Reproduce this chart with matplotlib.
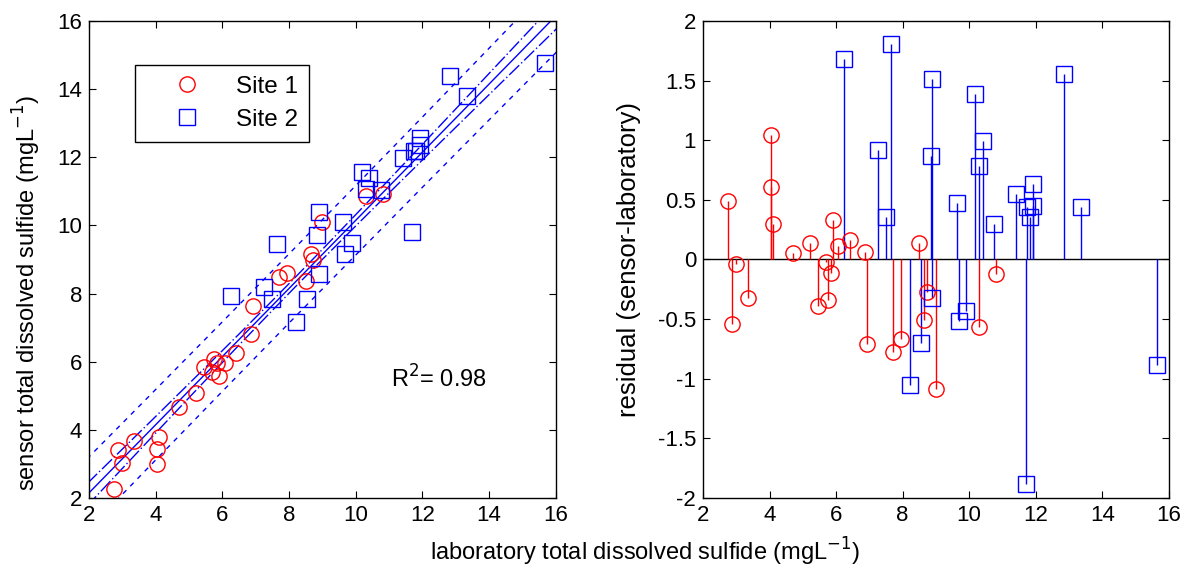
import numpy as np
import matplotlib
matplotlib.use("Agg")
import matplotlib.pyplot as plt

plt.rcParams['font.family'] = ['Liberation Sans', 'DejaVu Sans']
plt.rcParams['axes.unicode_minus'] = False

# Site 1: laboratory value and residual as shown in the right panel
lab1 = [2.74, 2.86, 2.98, 3.36, 4.04, 4.04, 4.10, 4.71, 5.22, 5.46, 5.69, 5.75, 5.84,
        5.90, 6.07, 6.42, 6.87, 6.92, 7.70, 7.94, 8.50, 8.65, 8.72, 9.00, 10.30, 10.81]
res1 = [0.49, -0.54, -0.04, -0.32, 1.04, 0.61, 0.30, 0.05, 0.14, -0.39, -0.02, -0.34, -0.11,
        0.33, 0.11, 0.16, 0.06, -0.71, -0.78, -0.67, 0.14, -0.51, -0.27, -1.09, -0.57, -0.12]

# Site 2
lab2 = [6.25, 7.26, 7.49, 7.65, 8.22, 8.55, 8.84, 8.89, 8.89, 9.62, 9.68, 9.90, 10.18,
        10.30, 10.41, 10.75, 11.42, 11.70, 11.75, 11.82, 11.92, 11.93, 12.84, 13.35, 15.66]
res2 = [1.68, 0.92, 0.36, 1.81, -1.05, -0.70, 0.865, 1.51, -0.32, 0.47, -0.52, -0.43, 1.39,
        0.78, 0.99, 0.30, 0.55, -1.88, 0.44, 0.36, 0.45, 0.63, 1.555, 0.44, -0.885]

# regression line as drawn in the left panel
fit_slope = 1.0
fit_intercept = 0.15
fit_sd = 0.5
r2_label = "R$^2$= 0.98"

ticks_x = [2, 4, 6, 8, 10, 12, 14, 16]
ticks_y_left = [2, 4, 6, 8, 10, 12, 14, 16]
ticks_y_right = [-2, -1.5, -1, -0.5, 0, 0.5, 1, 1.5, 2]
tick_labels_right = ['-2', '-1.5', '-1', '-0.5', '0', '0.5', '1', '1.5', '2']

lab1 = np.array(lab1); res1 = np.array(res1)
lab2 = np.array(lab2); res2 = np.array(res2)
# sensor readings as they sit in the left panel
sensor1 = lab1 - res1
sensor2 = lab2 + res2

# confidence / prediction bands around the fit
x_all = np.concatenate([lab1, lab2])
n = len(x_all)
t = 2.01
xm = x_all.mean()
sxx = np.sum((x_all - xm)**2)
xf = np.linspace(1.5, 16.5, 200)
yf = fit_intercept + fit_slope * xf
ci = t * fit_sd * np.sqrt(1.0/n + (xf - xm)**2 / sxx)
pi = t * fit_sd * np.sqrt(1 + 1.0/n + (xf - xm)**2 / sxx)

fig = plt.figure(figsize=(11.88, 5.72), dpi=100)
ax1 = fig.add_axes([0.0749, 0.1294, 0.393, 0.834])
ax2 = fig.add_axes([0.5918, 0.1294, 0.392, 0.834])

fs = 16
fl = 17

ax1.plot(xf, yf, color='b', lw=1)
ax1.plot(xf, yf + ci, color='b', lw=1, dashes=(10, 2, 1, 2))
ax1.plot(xf, yf - ci, color='b', lw=1, dashes=(10, 2, 1, 2))
ax1.plot(xf, yf + pi, color='b', lw=1, dashes=(3.5, 4))
ax1.plot(xf, yf - pi, color='b', lw=1, dashes=(3.5, 4))
ax1.plot(lab1, sensor1, 'o', color='r', mfc='none', ms=11, mew=1, label='Site 1')
ax1.plot(lab2, sensor2, 's', color='b', mfc='none', ms=11, mew=1, label='Site 2')
ax1.text(11.05, 5.5, r2_label, fontsize=fl, va='center', ha='left')
ax1.set_xlim(2, 16)
ax1.set_ylim(2, 16)
ax1.set_xticks(ticks_x)
ax1.set_yticks(ticks_y_left)
ax1.set_ylabel("sensor total dissolved sulfide (mgL$^{-1}$)", fontsize=fl)
ax1.yaxis.set_label_coords(-0.098, 0.43)
leg = ax1.legend(loc='upper left', bbox_to_anchor=(0.0985, 0.908), fontsize=17.5,
                 fancybox=False, framealpha=1, edgecolor='k', handlelength=3.4,
                 handletextpad=0.3, borderpad=0.45, labelspacing=0.45, borderaxespad=0)
leg.get_frame().set_linewidth(1)

ax2.axhline(0, color='k', lw=1)
ax2.vlines(lab1, 0, res1, color='r', lw=1)
ax2.vlines(lab2, 0, res2, color='b', lw=1)
ax2.plot(lab1, res1, 'o', color='r', mfc='none', ms=11, mew=1)
ax2.plot(lab2, res2, 's', color='b', mfc='none', ms=11, mew=1)
ax2.set_xlim(2, 16)
ax2.set_ylim(-2, 2)
ax2.set_xticks(ticks_x)
ax2.set_yticks(ticks_y_right)
ax2.set_yticklabels(tick_labels_right)
ax2.set_ylabel("residual (sensor-laboratory)", fontsize=18.5)
ax2.yaxis.set_label_coords(-0.133, 0.5)

for ax in (ax1, ax2):
    ax.tick_params(direction='in', top=True, right=True, labelsize=fs, length=5, pad=5)
    for sp in ax.spines.values():
        sp.set_linewidth(1)

fig.text(0.543, 0.035, "laboratory total dissolved sulfide (mgL$^{-1}$)", fontsize=fl,
         ha='center', va='center')

fig.savefig("out.png", dpi=100)
